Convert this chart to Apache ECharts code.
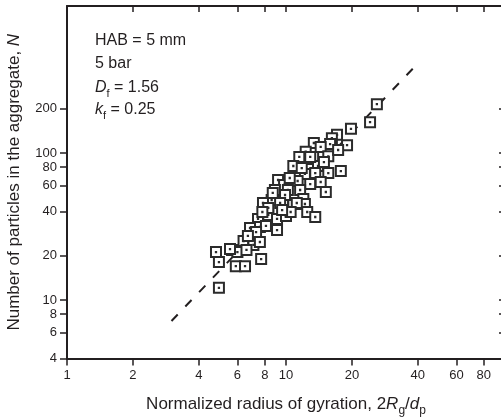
<!DOCTYPE html>
<html><head><meta charset="utf-8">
<script src="https://cdn.jsdelivr.net/npm/echarts@6/dist/echarts.min.js"></script>
<style>html,body{margin:0;padding:0;background:#fff}#c{width:501px;height:419px}</style>
</head><body><div id="c"></div>
<script>
const xTicks = [1, 2, 4, 6, 8, 10, 20, 40, 60, 80];
const yTicks = [4, 6, 8, 10, 20, 40, 60, 80, 100, 200];
const radius = [26.0,24.2,19.8,19.0,17.1,16.2,15.9,13.4,14.4,12.3,13.3,15.6,12.5,11.5,14.0,11.0,10.8,13.6,15.6,17.8,12.2,11.3,12.9,14.4,15.2,9.2,9.8,8.9,10.2,11.6,8.6,9.7,10.8,12.0,12.2,8.7,9.9,9.4,7.85,11.2,12.5,13.6,8.3,9.1,10.0,7.45,7.6,6.85,9.1,8.1,6.4,7.1,7.1,7.6,5.67,6.0,6.6,4.79,5.55,7.7,4.94,5.9,6.5,4.94,12.9,10.4,8.3,7.3,6.7,10.5,17.3,14.9,11.8,7.8,9.6];
const particles = [215,162,146,113,133,126,115,117,110,102,94,95,91,94,81.6,79,81.6,73,73,75.4,72,64.5,61.5,63.5,54.3,65.5,60.6,56,56,56,47.9,47.9,45,48.6,45,53.5,51.8,45.7,45.7,45.7,39.7,36.7,37.9,35.6,37.3,35.6,31.4,30.9,29.9,31.9,25.2,26.4,23.7,24.8,21.9,21.2,21.9,21.2,22.2,19.0,18.1,17.0,17.0,12.1,94,67.6,42.3,29.0,27.3,39.7,104.8,86.8,79,39.7,40.9];
const fitX = [3, 39];
const fitN = [7.2, 391];
const notes = ['HAB = 5 mm', '5 bar', '{i|D}{s|f} = 1.56', '{i|k}{s|f} = 0.25'];

const FONT = '"Liberation Sans", Arial, Helvetica, sans-serif';
const ink = '#231f20';
function richFor(size) {
  return {
    i: {fontFamily: FONT, fontSize: size, fontStyle: 'italic', color: ink},
    s: {fontFamily: FONT, fontSize: Math.round(size * 0.69), color: ink, padding: [Math.round(size * 0.69), 0, 0, 0]}
  };
}

function xAx(pos) {
  const bottom = pos === 'bottom';
  return {
    type: 'log', logBase: 10, min: 1, max: 100, position: pos, gridIndex: 0,
    name: bottom ? 'Normalized radius of gyration, 2{i|R}{s|g}/{i|d}{s|p}' : '',
    nameLocation: 'middle', nameGap: 34,
    nameTextStyle: {fontFamily: FONT, fontSize: 17, color: ink, rich: richFor(17)},
    axisLine: {show: true, onZero: false, lineStyle: {color: ink, width: 2}},
    axisTick: {show: true, inside: !bottom, length: bottom ? 7 : 6, lineStyle: {color: ink, width: 1.5}, customValues: xTicks},
    axisLabel: {show: bottom, customValues: xTicks, margin: 10, fontFamily: FONT, fontSize: 13, color: ink, formatter: v => String(+(+v).toPrecision(6))},
    splitLine: {show: false}, minorTick: {show: false}, minorSplitLine: {show: false}
  };
}
function yAx(pos) {
  const left = pos === 'left';
  return {
    type: 'log', logBase: 10, min: 4, max: 1000, position: pos, gridIndex: 0,
    name: left ? 'Number of particles in the aggregate, {i|N}' : '',
    nameLocation: 'middle', nameRotate: 90, nameGap: 44,
    nameTextStyle: {fontFamily: FONT, fontSize: 17, color: ink, rich: richFor(17)},
    axisLine: {show: true, onZero: false, lineStyle: {color: ink, width: 2}},
    axisTick: {show: true, inside: !left, length: left ? 7 : 6, lineStyle: {color: ink, width: 1.5}, customValues: yTicks},
    axisLabel: {show: left, customValues: yTicks, margin: 10, fontFamily: FONT, fontSize: 13, color: ink, formatter: v => String(+(+v).toPrecision(6))},
    splitLine: {show: false}, minorTick: {show: false}, minorSplitLine: {show: false}
  };
}

const chart = echarts.init(document.getElementById('c'), null, {renderer: 'canvas'});
chart.setOption({
  animation: false,
  backgroundColor: '#fff',
  grid: {left: 67, right: -4, top: 6, bottom: 60.5, containLabel: false, outerBoundsMode: 'none'},
  xAxis: [xAx('bottom'), xAx('top')],
  yAxis: [yAx('left'), yAx('right')],
  series: [
    {
      type: 'line', xAxisIndex: 0, yAxisIndex: 0, z: 1,
      data: fitX.map((x, i) => [x, fitN[i]]),
      showSymbol: false, symbol: 'none',
      lineStyle: {color: ink, width: 2, type: [9, 11]}
    },
    {
      type: 'scatter', xAxisIndex: 0, yAxisIndex: 0, z: 2,
      data: radius.map((x, i) => [x, particles[i]]),
      symbol: 'path://M0,0H10V10H0Z M4.85,4.85H5.15V5.15H4.85Z',
      symbolSize: 10,
      itemStyle: {color: '#fff', borderColor: '#2b2b2b', borderWidth: 2, opacity: 1}
    }
  ],
  graphic: notes.map((t, k) => ({
    type: 'text', x: 95, y: [41, 64, 88, 110][k],
    style: {text: t, fontFamily: FONT, fontSize: 16, fill: ink, verticalAlign: 'middle', rich: richFor(16)}
  }))
});
</script>
</body></html>
